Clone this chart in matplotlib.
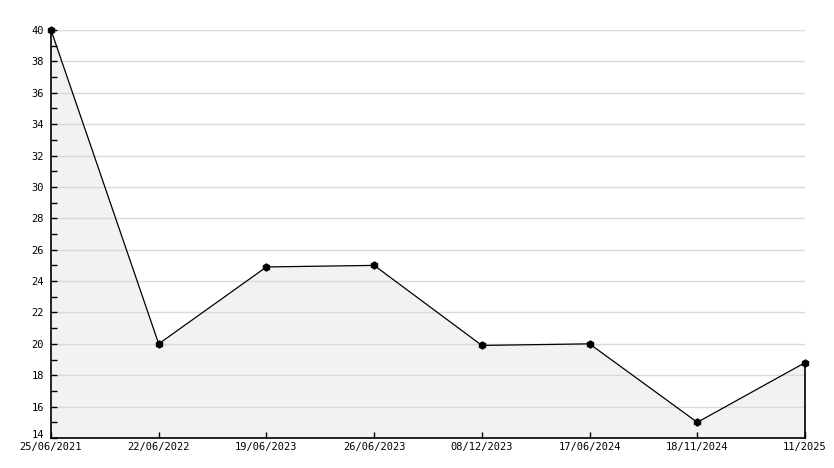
import matplotlib.pyplot as plt
import matplotlib.transforms as mtransforms
import numpy as np

# dates (category labels) and values
dates = ["25/06/2021", "22/06/2022", "19/06/2023", "26/06/2023",
         "08/12/2023", "17/06/2024", "18/11/2024", "11/2025"]
values = [40.0, 20.0, 24.9, 25.0, 19.9, 20.0, 15.0, 18.8]

x = np.arange(len(dates))

fig = plt.figure(figsize=(8.34, 4.68), dpi=100)
ax = fig.add_axes([51/834, 30/468, (805-51)/834, (438-30)/468])

# fill under the line (below the grid)
ax.fill_between(x, values, 14, color="#f2f2f2", linewidth=0, zorder=0.2)
ax.plot([x[-1], x[-1]], [14, values[-1]], color="black", linewidth=1.2,
        zorder=3, clip_on=False)
ax.plot(x, values, color="black", linewidth=0.9, marker="h", markersize=5,
        markerfacecolor="black", markeredgecolor="black", zorder=4, clip_on=False)

ax.set_xlim(0, len(dates) - 1)
ax.set_ylim(14, 40)
ax.set_xticks(x)
ax.set_xticklabels(dates)
ax.set_yticks(np.arange(14, 41, 2))
ax.set_yticks(np.arange(15, 40, 2), minor=True)

ax.set_axisbelow(True)
ax.yaxis.grid(True, which="major", color="#d9d9d9", linewidth=1)

for s in ["top", "right"]:
    ax.spines[s].set_visible(False)
for s in ["left", "bottom"]:
    ax.spines[s].set_linewidth(1.2)
    ax.spines[s].set_zorder(5)

ax.tick_params(axis="both", which="both", direction="in", colors="black",
               labelsize=7.5, width=1)
ax.tick_params(axis="y", which="major", length=4, pad=5)
ax.tick_params(axis="y", which="minor", length=4)
ax.tick_params(axis="x", which="major", length=4, pad=3)
for lab in ax.get_xticklabels() + ax.get_yticklabels():
    lab.set_family("DejaVu Sans Mono")

# lowest y label sits a little higher, as in the source chart
low = ax.get_yticklabels()[0]
low.set_transform(low.get_transform() +
                  mtransforms.ScaledTranslation(0, 3/72, fig.dpi_scale_trans))

fig.savefig("out.png", dpi=100)
